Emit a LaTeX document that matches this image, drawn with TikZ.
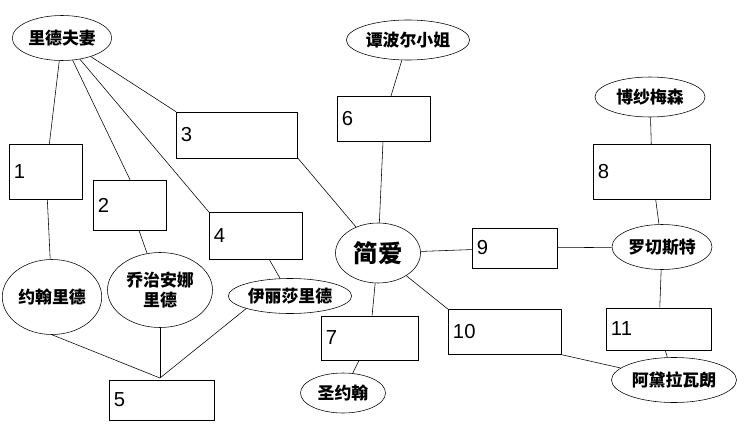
\documentclass[tikz,border=0pt]{standalone}
\usepackage{fontspec}
\newfontfamily\cjk{Noto Sans CJK SC}
\setsansfont{Liberation Sans}
\usetikzlibrary{shapes.geometric,positioning,calc}
\tikzset{
  person/.style={draw, ellipse, inner sep=1pt, font=\cjk\bfseries\large},
  slot/.style={draw, rectangle, font=\sffamily\Large, align=left, text width=#1},
  slot/.default=1cm,
  link/.style={thin}
}
\begin{document}
\begin{tikzpicture}[x=0.025cm,y=-0.025cm]
\useasboundingbox (0,0) rectangle (744,441);
% characters
\node (reed) [person,minimum width=95*0.025cm,minimum height=45*0.025cm] at (62,38) {里德夫妻};
\node (temple) [person,minimum width=110*0.025cm,minimum height=40*0.025cm] at (408,40) {谭波尔小姐};
\node (mason) [person,minimum width=110*0.025cm,minimum height=40*0.025cm] at (650,97) {博纱梅森};
\node (jane) [person,font=\cjk\bfseries\LARGE,minimum width=85*0.025cm,minimum height=60*0.025cm] at (378,253) {简爱};
\node (roch) [person,minimum width=100*0.025cm,minimum height=45*0.025cm] at (662,247) {罗切斯特};
\node (john) [person,minimum width=85*0.025cm,minimum height=75*0.025cm] at (52,297) {约翰里德};
\node (georg) [person,align=center,minimum width=105*0.025cm,minimum height=75*0.025cm] at (160,290) {乔治安娜\\里德};
\node (eliza) [person,minimum width=115*0.025cm,minimum height=35*0.025cm] at (290,296) {伊丽莎里德};
\node (river) [person,minimum width=85*0.025cm,minimum height=40*0.025cm] at (343,393) {圣约翰};
\node (adele) [person,minimum width=125*0.025cm,minimum height=45*0.025cm] at (674,380) {阿黛拉瓦朗};
% boxes
\node (b1) [slot=1.6cm,minimum height=55*0.025cm] at (46,172) {1};
\node (b2) [slot=1.6cm,minimum height=50*0.025cm] at (130,205) {2};
\node (b3) [slot=2.8cm,minimum height=46*0.025cm] at (237,135) {3};
\node (b4) [slot=2.1cm,minimum height=47*0.025cm] at (256,236) {4};
\node (b5) [slot=2.4cm,minimum height=40*0.025cm] at (162,400) {5};
\node (b6) [slot=2.1cm,minimum height=45*0.025cm] at (384,119) {6};
\node (b7) [slot=2.2cm,minimum height=44*0.025cm] at (370,338) {7};
\node (b8) [slot=2.7cm,minimum height=55*0.025cm] at (652,172) {8};
\node (b9) [slot=1.9cm,minimum height=40*0.025cm] at (515,248) {9};
\node (b10) [slot=2.6cm,minimum height=45*0.025cm] at (505,332) {10};
\node (b11) [slot=2.4cm,minimum height=42*0.025cm] at (659,329) {11};
\coordinate (meet) at (160,378);
% links
\draw[link] (reed) -- (b1);
\draw[link] (b1) -- (john);
\draw[link] (reed) -- (b2.north);
\draw[link] (b2) -- (georg);
\draw[link] (reed) -- (b3.north west);
\draw[link] (b3.south east) -- (jane);
\draw[link] (reed) -- (b4.north west);
\draw[link] (b4) -- (eliza);
\draw[link] (john.south) -- (meet);
\draw[link] (georg) -- (meet);
\draw[link] (eliza.south west) -- (meet);
\draw[link] (temple) -- (b6);
\draw[link] (b6) -- (jane);
\draw[link] (jane) -- (b9);
\draw[link] (b9) -- (roch);
\draw[link] (jane) -- (b7);
\draw[link] (b7) -- (river);
\draw[link] (jane) -- (b10.north west);
\draw[link] (b10.south east) -- (adele);
\draw[link] (mason) -- (b8);
\draw[link] (b8) -- (roch);
\draw[link] (roch) -- (b11);
\draw[link] (b11) -- (adele);
\end{tikzpicture}
\end{document}
